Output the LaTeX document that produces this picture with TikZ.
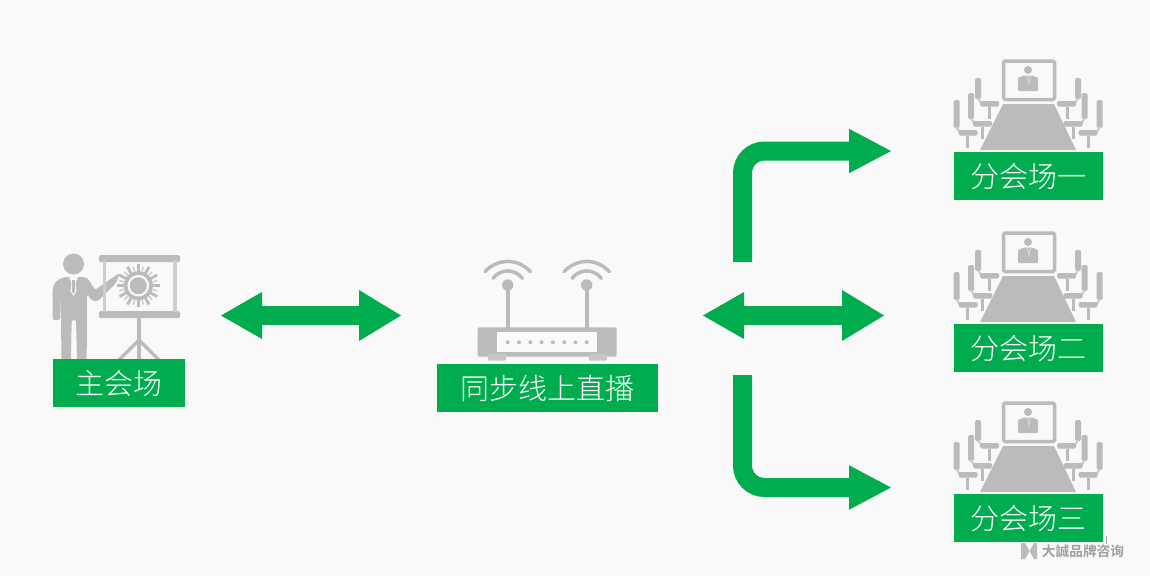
\documentclass[tikz,border=0pt]{standalone}
\usepackage{fontspec}
\setmainfont{Noto Sans CJK SC}[UprightFont=* Light]
\newfontfamily\wmfont{Noto Sans CJK SC}[UprightFont=* Bold]
\usetikzlibrary{arrows.meta}
\definecolor{bgc}{HTML}{F9F9F9}
\definecolor{grn}{HTML}{00AC4E}
\definecolor{gry}{HTML}{BBBBBB}
\tikzset{
  label box/.style={fill=grn,text=white,minimum height=48pt,inner sep=0pt,font=\fontsize{29}{29}\selectfont,anchor=north west},
  flow/.style={draw=grn,line width=19pt,-{Triangle[length=42pt,width=44.5pt,color=grn,line width=0pt]}},
  flow both/.style={draw=grn,line width=19pt,{Triangle[length=41pt,width=47pt,color=grn,line width=0pt]}-{Triangle[length=42pt,width=51pt,color=grn,line width=0pt]}},
  pics/chair/.style={code={
    \fill[gry,rounded corners=1.5pt] (-3,-#1-2) rectangle (3,-2);
    \draw[gry!75!bgc,line width=2pt] (0,-3) -- (3,2);
    \fill[gry,rounded corners=1.5pt] (2,0) rectangle (21,5.5);
    \fill[gry] (9.5,5.5) rectangle (12.5,18);
  }},
  pics/room/.style={code={
    \draw[gry,line width=3.5pt,rounded corners=1.5pt] (49.5,-91) rectangle (100.5,-52.5);
    \fill[gry] (74,-82) circle (4);
    \fill[gry,rounded corners=1pt] (64,-61) -- (64,-74) -- (70,-76.5) -- (78,-76.5) -- (84,-74) -- (84,-61) -- cycle;
    \fill[bgc!50!gry] (73,-76) -- (75,-67) -- (77,-76) -- (76,-76) -- (75,-70) -- (74,-76) -- cycle;
    \fill[gry] (49,-48) -- (100,-48) -- (122,-2) -- (26,-2) -- cycle;
    \pic at (2.5,-22) {chair={28}};
    \pic at (17,-31) {chair={26}};
    \pic at (24,-51) {chair={21}};
    \pic[xscale=-1] at (145.7,-22) {chair={28}};
    \pic[xscale=-1] at (130.7,-31) {chair={26}};
    \pic[xscale=-1] at (124,-51) {chair={21}};
  }},
}
\begin{document}
\begin{tikzpicture}[x=1pt,y=-1pt]
\useasboundingbox (0,0) rectangle (1150,576);
\fill[bgc] (0,0) rectangle (1150,576);

% presenter
\fill[gry] (73.5,264) circle (10.5);
\fill[gry,rounded corners=2pt] (52.7,320) -- (52.7,292) .. controls (53,283) and (58,279) .. (65,277)
  -- (83,277) .. controls (88,278) and (91,283) .. (95,290) -- (112,278) -- (120,273) -- (116,283) -- (98,301) -- (92,301) -- (87,294)
  -- (86.7,360) -- (77,360) -- (76,320) -- (71.7,320) -- (71,360) -- (61.5,360) -- (60.7,295) -- (60,320) -- cycle;
\fill[bgc] (69,277) -- (78,277) -- (75.5,283) -- (76.5,291) -- (73.500,296) -- (70.5,291) -- (71.5,283) -- cycle;
\fill[gry] (72.200,280) -- (74.800,280) -- (75,291) -- (73.500,294) -- (72,291) -- cycle;
\fill[gry,rounded corners=1.5pt] (99,255) rectangle (180,262);
\fill[gry,rounded corners=1.5pt] (99,311) rectangle (180,318);
\fill[gry!70!bgc] (102.7,260) rectangle (106,312);
\fill[gry!70!bgc] (172.7,260) rectangle (176.7,312);
\fill[gry] (136.700,316) rectangle (141.200,360);
\draw[gry,line width=3.5pt] (139,340) -- (119,360) (139,340) -- (159,360);
% sun
\fill[gry] (138.300,285.700) circle (14.5);
\fill[bgc] (138.300,285.700) circle (10.8);
\fill[gry] (138.300,285.700) circle (8.5);
\foreach \a in {0,30,...,330}
  \fill[gry,rotate around={\a:(138.300,285.700)}] (136.900,264) rectangle (139.700,272);
\foreach \a in {15,45,...,345}
  \fill[gry!70!bgc,rotate around={\a:(138.300,285.700)}] (137.500,266) rectangle (139.100,271);
\node[label box,minimum width=132pt] (main) at (53,359) {主会场};

% router
\node[label box,minimum width=221pt] (live) at (437,364) {同步线上直播};
\fill[gry,rounded corners=2pt] (477.7,327.3) rectangle (616.7,356.7);
\fill[gry!80!bgc,rounded corners=1pt] (488,354) rectangle (506,360.7);
\fill[gry!80!bgc,rounded corners=1pt] (589,354) rectangle (607,360.7);
\fill[bgc!85!white] (496.7,331.7) rectangle (597.3,351.7);
\foreach \i in {0,...,7} \fill[gry] (507.7+\i*11.29,342.300) circle (2);
\foreach \x in {507.7,586.7}{
  \fill[gry] (\x-1.800,285) rectangle (\x+1.800,328);
  \fill[gry] (\x,285) circle (5.7);
  \draw[gry,line width=3.5pt,line cap=round] (\x-14.7,278.3) .. controls (\x-7,268.5) and (\x+7,268.5) .. (\x+14.7,278.3);
  \draw[gry,line width=3.5pt,line cap=round] (\x-22.7,271.7) .. controls (\x-10,258) and (\x+10,258) .. (\x+22.7,271.7);
}

% rooms
\node[label box,minimum width=149pt] (r1) at (954,152) {分会场一};
\node[label box,minimum width=149pt] (r2) at (954,324) {分会场二};
\node[label box,minimum width=149pt] (r3) at (954,494) {分会场三};
\pic at (954,152) {room};
\pic at (954,324) {room};
\pic at (954,494) {room};

% connectors
\coordinate (a1) at (221,315.5); \coordinate (a2) at (401,315.5);
\coordinate (b1) at (703,315.5); \coordinate (b2) at (884,315.5);
\coordinate (c1) at (742.5,262); \coordinate (c2) at (891,151);
\coordinate (d1) at (742.5,375); \coordinate (d2) at (891,487.5);
\draw[flow both] (a1) -- (a2);
\draw[flow both] (b1) -- (b2);
\draw[flow,rounded corners=22pt] (c1) |- (c2);
\draw[flow,rounded corners=22pt] (d1) |- (d2);

% watermark
\fill[gray!70] (1106,536) rectangle (1107,544);
\fill[gry] (1021,543) -- (1025,543) -- (1029.5,551) -- (1025,559) -- (1021,559) -- cycle;
\fill[gry] (1037,543) -- (1034,543) -- (1029.5,551) -- (1034,559) -- (1037,559) -- cycle;
\node[font=\wmfont\fontsize{13.700}{14}\selectfont,text=gray!75,inner sep=0pt] (wm) at (1083,551.500) {大誠品牌咨询};
\end{tikzpicture}
\end{document}
